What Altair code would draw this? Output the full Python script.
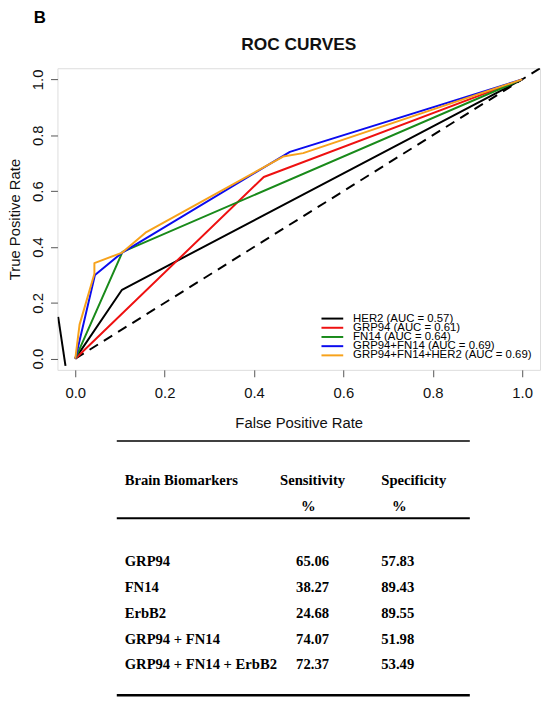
import altair as alt
import pandas as pd

# ---------------- ROC data ----------------
series = ["HER2", "GRP94", "FN14", "GRP94+FN14", "GRP94+FN14+HER2"]
auc = ["0.57", "0.61", "0.64", "0.69", "0.69"]
colors = ["#000000", "#ee1111", "#198a1a", "#0b0bee", "#f7a21b"]

her2_fpr = [0.0, 0.1045, 1.0]
her2_tpr = [0.0, 0.2468, 1.0]
grp94_fpr = [0.0, 0.4217, 1.0]
grp94_tpr = [0.0, 0.6506, 1.0]
fn14_fpr = [0.0, 0.1057, 1.0]
fn14_tpr = [0.0, 0.3827, 1.0]
gf_fpr = [0.0, 0.044, 0.105, 0.4802, 1.0]
gf_tpr = [0.0, 0.300, 0.380, 0.7407, 1.0]
gfh_fpr = [0.0, 0.0095, 0.0427, 0.0427, 0.105, 0.157, 0.4651, 0.51, 1.0]
gfh_tpr = [0.0, 0.122, 0.304, 0.342, 0.380, 0.451, 0.7237, 0.736, 1.0]

diag_fpr = [0.0, 1.04]
diag_tpr = [0.0, 1.04]
stray_fpr = [-0.0384, -0.022]
stray_tpr = [0.150, -0.026]

ticks = [0.0, 0.2, 0.4, 0.6, 0.8, 1.0]

# ---------------- table data ----------------
panel_label = "B"
plot_title = "ROC CURVES"
headers = ["Brain Biomarkers", "Sensitivity", "Specificity"]
units = ["%", "%"]
markers = ["GRP94", "FN14", "ErbB2", "GRP94 + FN14", "GRP94 + FN14 + ErbB2"]
sensitivity = ["65.06", "38.27", "24.68", "74.07", "72.37"]
specificity = ["57.83", "89.43", "89.55", "51.98", "53.49"]

# ---------------- build frames ----------------
fprs = [her2_fpr, grp94_fpr, fn14_fpr, gf_fpr, gfh_fpr]
tprs = [her2_tpr, grp94_tpr, fn14_tpr, gf_tpr, gfh_tpr]
rows = []
for name, fx, ty in zip(series, fprs, tprs):
    for i, (a, b) in enumerate(zip(fx, ty)):
        rows.append({"series": name, "fpr": a, "tpr": b, "idx": i})
curves_df = pd.DataFrame(rows)
diag_df = pd.DataFrame({"fpr": diag_fpr, "tpr": diag_tpr})
stray_df = pd.DataFrame({"fpr": stray_fpr, "tpr": stray_tpr})

SANS = "Liberation Sans"
SERIF = "Liberation Serif"

xscale = alt.Scale(domain=[-0.04, 1.04], nice=False, zero=False)
yscale = alt.Scale(domain=[-0.04, 1.04], nice=False, zero=False)
cscale = alt.Scale(domain=series, range=colors)

x_axis = alt.Axis(values=ticks, format=".1f", title="False Positive Rate", grid=False,
                  domain=False, tickSize=7, tickColor="#555", labelFont=SANS,
                  labelFontSize=15, labelColor="#111", labelPadding=9,
                  titleFont=SANS, titleFontSize=15, titleFontWeight="normal",
                  titleColor="#111", titleY=58, titleBaseline="alphabetic")
y_axis = alt.Axis(values=ticks, format=".1f", title="True Positive Rate", grid=False,
                  domain=False, tickSize=7, tickColor="#555", labelFont=SANS,
                  labelFontSize=15, labelColor="#111", labelPadding=8,
                  labelAngle=270, labelAlign="center", labelBaseline="alphabetic",
                  titleFont=SANS, titleFontSize=15, titleFontWeight="normal",
                  titleColor="#111", titleAngle=270, titleX=-38.5, titleY=152.5,
                  titleAlign="center", titleBaseline="alphabetic")

X = alt.X("fpr:Q", scale=xscale, axis=x_axis)
Y = alt.Y("tpr:Q", scale=yscale, axis=y_axis)

diag = alt.Chart(diag_df).mark_line(color="black", strokeWidth=2, strokeDash=[10, 7],
                                    clip=True).encode(x=X, y=Y)
stray = alt.Chart(stray_df).mark_line(color="black", strokeWidth=2, clip=True).encode(
    x=alt.X("fpr:Q", scale=xscale), y=alt.Y("tpr:Q", scale=yscale))

curve_layers = []
for name in series:
    curve_layers.append(
        alt.Chart(curves_df).transform_filter(alt.datum.series == name)
        .mark_line(strokeWidth=2, clip=True, strokeJoin="round")
        .encode(x=alt.X("fpr:Q", scale=xscale), y=alt.Y("tpr:Q", scale=yscale),
                color=alt.Color("series:N", scale=cscale, legend=None),
                order=alt.Order("idx:Q"))
    )

roc = alt.layer(diag, stray, *curve_layers)

# ---------------- legend (inside plot) ----------------
legend_df = pd.DataFrame({"series": series,
                          "label": [f"{s} (AUC = {a})" for s, a in zip(series, auc)]})
lscale = alt.Scale(domain=series, range=[248.5, 295], padding=0)
leg_rules = alt.Chart(legend_df).mark_rule(strokeWidth=2).encode(
    x=alt.value(267), x2=alt.value(289),
    y=alt.Y("series:N", scale=lscale, axis=None),
    color=alt.Color("series:N", scale=cscale, legend=None))
leg_text = alt.Chart(legend_df).mark_text(align="left", baseline="middle", font=SANS,
                                          fontSize=11.5, color="black").encode(
    x=alt.value(299), y=alt.Y("series:N", scale=lscale, axis=None), text="label:N")
legend = alt.layer(leg_rules, leg_text)

# ---------------- table ----------------
data_rows = [3.12 + i for i in range(len(markers))]
name_df = pd.DataFrame({"t": [headers[0]] + markers, "row": [0] + data_rows})
sens_df = pd.DataFrame({"t": [headers[1]] + sensitivity, "row": [0] + data_rows})
spec_df = pd.DataFrame({"t": [headers[2]] + specificity, "row": [0] + data_rows})
pct_sens_df = pd.DataFrame({"t": [units[0]], "row": [1]})
pct_spec_df = pd.DataFrame({"t": [units[1]], "row": [1]})

tscale = alt.Scale(domain=[0, 7.12], range=[421, 608], nice=False, zero=False)
TY = alt.Y("row:Q", scale=tscale, axis=None)


def col(df, xpos, align):
    return alt.Chart(df).mark_text(align=align, baseline="alphabetic", font=SERIF,
                                   fontSize=14.8, fontWeight="bold", color="black").encode(
        x=alt.value(xpos), y=TY, text="t:N")


rule_top = alt.Chart(pd.DataFrame({"k": [0]})).mark_rule(color="black", strokeWidth=1.5).encode(
    x=alt.value(60), x2=alt.value(417), y=alt.value(377))
rule_mid = alt.Chart(pd.DataFrame({"k": [0]})).mark_rule(color="black", strokeWidth=2).encode(
    x=alt.value(60), x2=alt.value(417), y=alt.value(455))
rule_bot = alt.Chart(pd.DataFrame({"k": [0]})).mark_rule(color="black", strokeWidth=2.6).encode(
    x=alt.value(60), x2=alt.value(417), y=alt.value(634))

panel = alt.Chart(pd.DataFrame({"t": [panel_label]})).mark_text(
    align="left", baseline="alphabetic", font=SANS, fontSize=17, fontWeight="bold",
    color="black").encode(x=alt.value(-24), y=alt.value(-46), text="t:N")
title_txt = alt.Chart(pd.DataFrame({"t": [plot_title]})).mark_text(
    align="center", baseline="alphabetic", font=SANS, fontSize=17.5, fontWeight="bold",
    color="#111").encode(x=alt.value(244), y=alt.value(-18), text="t:N")

table = alt.layer(
    col(name_df, 68, "left"),
    col(sens_df, 258, "center"),
    col(spec_df, 327.5, "left"),
    col(pct_sens_df, 253.7, "center"),
    col(pct_spec_df, 345.8, "center"),
    rule_top, rule_mid, rule_bot, panel, title_txt,
)

chart = alt.layer(roc, legend, table).resolve_scale(
    x="independent", y="independent"
).properties(
    width=488, height=305,
    padding={"left": 50, "top": 57, "right": 2, "bottom": 335},
    autosize=alt.AutoSizeParams(type="none"),
).configure_view(stroke="#555", strokeWidth=1).configure(background="white")

chart.save("out.html", embed_options={"renderer": "svg", "actions": False})
